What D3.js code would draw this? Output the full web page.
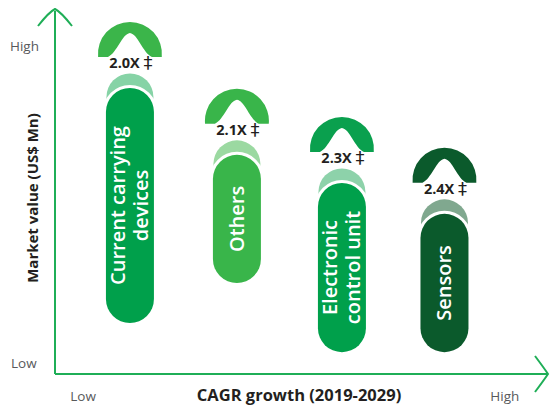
<!DOCTYPE html>
<html><head><meta charset="utf-8">
<script src="https://cdn.jsdelivr.net/npm/d3@7"></script>
<style>html,body{margin:0;padding:0;background:#fff}svg{display:block}</style>
</head><body><svg id="c" width="550" height="407"></svg>
<script>
// Data
const categories = [["Current carrying","devices"],["Others"],["Electronic","control unit"],["Sensors"]];
const cagrLabels = ["2.0X","2.1X","2.3X","2.4X"];
const cagrPos = [15.2, 36.9, 58.2, 79.0];  // relative CAGR growth (0-100)
const valueTop = [78.6, 60.2, 52.5, 44.0]; // relative market value (0-100)
const valueBottom = [14.0, 25.0, 6.0, 6.0];
const pillColors = ["#00a04b","#39b54a","#00a04b","#0b5a2c"];
const capColors = ["#3bb54a","#39b54a","#0aa04e","#0b5a2c"];
const crescentColors = ["#86d3a6","#9bd9a1","#8dd2aa","#80a88f"];
const axisTicks = ["Low","High"];

const svg = d3.select("#c");
const font = "'Open Sans', 'Noto Sans', sans-serif";
const x = d3.scaleLinear().domain([0,100]).range([55,548]);
const y = d3.scaleLinear().domain([0,100]).range([374,10]);
const axisColor = "#1fae57";
const pillR = 24, capR = 32;

// axes
const ax = svg.append("g").attr("fill","none").attr("stroke",axisColor).attr("stroke-width",2);
ax.append("path").attr("d",`M${x(0)},${y(0)}V${y(100)+1}H${x(0)}`);
ax.append("path").attr("d",`M${x(0)},${y(0)}H${x(100)}`);
const tx = x(0), ty = y(100)-1;
ax.append("path").attr("d",`M${tx-17},${ty+17} Q${tx-6},${ty+3} ${tx},${ty} Q${tx+6},${ty+3} ${tx+17},${ty+17}`);
const rx = x(100), ry = y(0);
ax.append("path").attr("d",`M${rx-13},${ry-18} Q${rx-4},${ry-6} ${rx},${ry} Q${rx-4},${ry+6} ${rx-13},${ry+18}`);

// tick labels
const lab = svg.append("g").attr("font-family",font).attr("font-size",13.5).attr("fill","#58595b");
lab.append("text").attr("x",10).attr("y",y(90)).attr("dy","0.35em").text(axisTicks[1]);
lab.append("text").attr("x",11).attr("y",y(3)).attr("dy","0.35em").text(axisTicks[0]);
lab.append("text").attr("x",x(3.1)).attr("y",396).attr("dy","0.35em").text(axisTicks[0]);
lab.append("text").attr("x",x(88.3)).attr("y",396).attr("dy","0.35em").text(axisTicks[1]);

// axis titles
svg.append("text").attr("font-family",font).attr("font-weight",700).attr("font-size",15).attr("fill","#231f20")
  .attr("text-anchor","middle").attr("transform",`translate(38,${y(50)+6}) rotate(-90)`).text("Market value (US$ Mn)");
svg.append("text").attr("font-family",font).attr("font-weight",700).attr("font-size",16.5).attr("fill","#231f20")
  .attr("text-anchor","middle").attr("x",x(49.5)).attr("y",395).attr("dy","0.35em").text("CAGR growth (2019-2029)");

// pills
const data = categories.map((c,i)=>({c, lab:cagrLabels[i], xv:cagrPos[i], t:valueTop[i], b:valueBottom[i], pc:pillColors[i], cc:capColors[i], lc:crescentColors[i]}));
const g = svg.selectAll("g.pill").data(data).join("g").attr("class","pill");
g.append("circle").attr("cx",d=>x(d.xv)).attr("cy",d=>y(d.t)+9).attr("r",23.5).attr("fill",d=>d.lc);
g.append("rect").attr("x",d=>x(d.xv)-pillR).attr("y",d=>y(d.t)).attr("width",pillR*2)
  .attr("height",d=>y(d.b)-y(d.t)).attr("rx",pillR).attr("fill",d=>d.pc)
  .attr("stroke","#fff").attr("stroke-width",6).attr("paint-order","stroke");
g.append("path").attr("fill",d=>d.cc).attr("d",d=>{
  const cx = x(d.xv), cy = y(d.t)-34;
  const a = Math.sqrt(capR*capR-9);
  return `M${cx-a},${cy+3} A${capR},${capR} 0 1 1 ${cx+a},${cy+3} L${cx+22},${cy+3}
   C${cx+13},${cy-1} ${cx+8},${cy-20} ${cx},${cy-21} C${cx-8},${cy-20} ${cx-13},${cy-1} ${cx-22},${cy+3} Z`;
});
const lt = g.append("text").attr("x",d=>x(d.xv)+1).attr("y",d=>y(d.t)-20).attr("text-anchor","middle")
  .attr("font-family",font).attr("font-weight",700).attr("font-size",14.5).attr("fill","#231f20");
lt.append("tspan").text(d=>d.lab+" ");
lt.append("tspan").attr("font-size",18).attr("font-weight",400).attr("font-family","'DejaVu Sans', sans-serif").attr("dy",1).text("‡");
g.each(function(d){
  const cx = x(d.xv), cy = (y(d.t)+y(d.b))/2;
  const n = d.c.length, lh = 23;
  const t = d3.select(this).append("text").attr("transform",`translate(${cx},${cy}) rotate(-90)`)
    .attr("text-anchor","middle").attr("font-family",font).attr("font-weight",600).attr("font-size",20).attr("fill","#fff");
  d.c.forEach((s,k)=>{
    t.append("tspan").attr("x",0).attr("y",(k-(n-1)/2)*lh).attr("dy","0.35em").text(s);
  });
});
</script></body></html>
